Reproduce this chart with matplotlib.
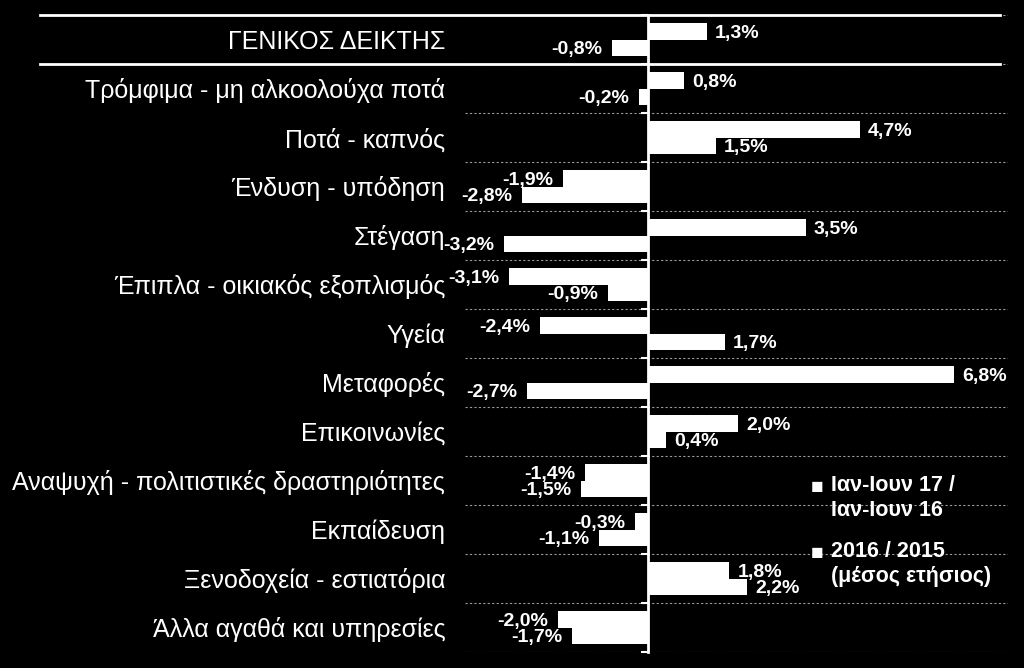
#!/usr/bin/env python3
import numpy as np
from matplotlib import pyplot as plt

categories = ['ΓΕΝΙΚΟΣ ΔΕΙΚΤΗΣ', 'Τρόμφιμα - μη αλκοολούχα ποτά', 'Ποτά - καπνός',
	'Ένδυση - υπόδηση', 'Στέγαση', 'Έπιπλα - οικιακός εξοπλισμός', 'Υγεία',
	'Μεταφορές', 'Επικοινωνίες', 'Αναψυχή - πολιτιστικές δραστηριότητες',
	'Εκπαίδευση', 'Ξενοδοχεία - εστιατόρια', 'Άλλα αγαθά και υπηρεσίες']
jan_jun = [1.3, 0.8, 4.7, -1.9, 3.5, -3.1, -2.4, 6.8, 2.0, -1.4, -0.3, 1.8, -2.0]
annual = [-0.8, -0.2, 1.5, -2.8, -3.2, -0.9, 1.7, -2.7, 0.4, -1.5, -1.1, 2.2, -1.7]
series_labels = ['Ιαν-Ιουν 17 /\nΙαν-Ιουν 16', '2016 / 2015\n(μέσος ετήσιος)']

def fmt(v):
	return ('%.1f%%' % v).replace('.', ',')

def plotChart():
	plt.rcParams['font.family'] = ['Liberation Sans', 'DejaVu Sans']
	fig = plt.figure(figsize=(10.24, 6.68), dpi=100, facecolor='black')
	ax = fig.add_axes([465/1024, 16/668, 543/1024, 637/668])
	ax.set_facecolor('black')

	y = np.arange(len(categories))
	h = 0.34
	ax.barh(y - h/2, jan_jun, height=h, color='white', zorder=3)
	ax.barh(y + h/2, annual, height=h, color='white', zorder=3)

	for i in range(len(categories)):
		for v, yy in ((jan_jun[i], y[i] - h/2), (annual[i], y[i] + h/2)):
			off = 6 if v >= 0 else -7
			ax.annotate(fmt(v), (v, yy), xytext=(off, -1.5), textcoords='offset points',
				ha='left' if v >= 0 else 'right', va='center', color='white',
				fontsize=14, fontweight='bold', annotation_clip=False, zorder=5)
		ax.text(-4.51, y[i] + 0.05, categories[i], ha='right', va='center', color='white',
			fontsize=18, clip_on=False)

	ax.set_xlim(-4.07, 8.0)
	ax.set_ylim(len(categories) - 0.5, -0.5)
	bounds = np.arange(len(categories) + 1) - 0.5
	ax.set_yticks(bounds)
	ax.set_yticklabels([])
	ax.set_xticks([])
	ax.grid(axis='y', color='#9a9a9a', linestyle=(0, (2, 2)), linewidth=0.8, zorder=1)
	for s in ['top', 'right', 'bottom']:
		ax.spines[s].set_visible(False)
	ax.spines['left'].set_position(('data', 0))
	ax.spines['left'].set_color('white')
	ax.spines['left'].set_linewidth(2)
	ax.spines['left'].set_zorder(4)
	ax.tick_params(axis='y', color='white', length=5, width=1.5, direction='out')

	for b in bounds[:2]:
		ax.axhline(b, xmin=-0.783, xmax=0.985, color='white', linewidth=2, clip_on=False, zorder=4)

	# legend drawn by hand so the marker sits on the first line
	for lbl, ypix in zip(series_labels, (487, 553)):
		fig.text(811/1024, 1 - ypix/668, '■', color='white', fontsize=15, va='center', ha='left')
		fig.text(831/1024, 1 - (ypix - 12)/668, lbl, color='white', fontsize=15.5,
			fontweight='bold', va='top', ha='left', linespacing=1.25)

	fig.savefig('out.png', dpi=100, facecolor='black')

def main():
	plotChart()

if __name__ == '__main__':
	main()
